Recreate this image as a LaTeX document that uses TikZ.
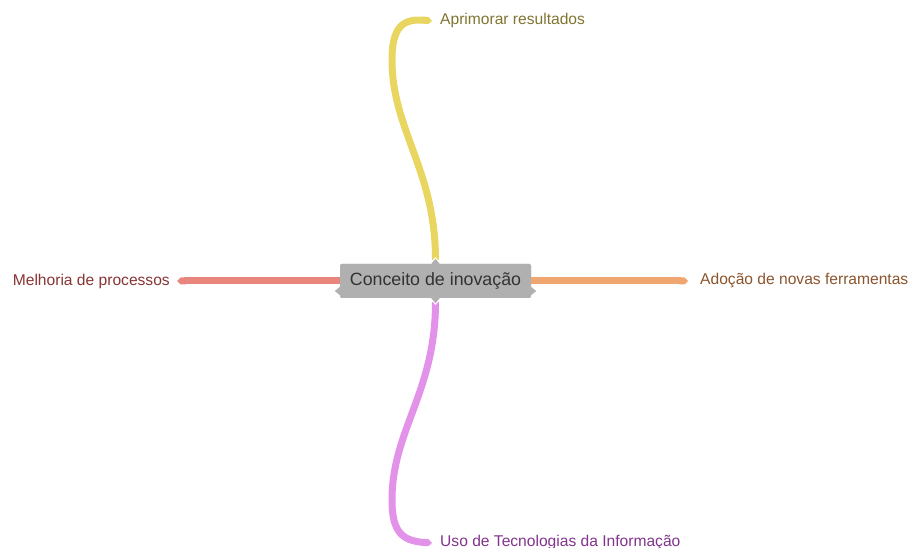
\documentclass[tikz,border=0pt]{standalone}
\usepackage{fontspec}
\setmainfont{Liberation Sans}
\usetikzlibrary{arrows.meta}
\definecolor{boxgray}{RGB}{176,176,176}
\definecolor{textgray}{RGB}{51,51,51}
\definecolor{yelline}{RGB}{233,214,96}
\definecolor{yeltext}{RGB}{128,116,48}
\definecolor{redline}{RGB}{232,134,126}
\definecolor{redtext}{RGB}{136,52,52}
\definecolor{orgline}{RGB}{240,166,112}
\definecolor{orgtext}{RGB}{140,84,44}
\definecolor{pinkline}{RGB}{226,146,232}
\definecolor{pinktext}{RGB}{130,52,140}

\begin{document}
\begin{tikzpicture}[x=1pt,y=-1pt,
    topic/.style={fill=boxgray,rounded corners=2pt,minimum width=191pt,
        minimum height=34pt,inner sep=0pt,text=textgray,
        font=\fontsize{17.8}{20}\selectfont},
    leaf/.style={inner sep=2pt,font=\fontsize{15.6}{18}\selectfont},
    branch/.style={line width=7pt,-{Triangle Cap[]}},
    notch/.style={fill=boxgray,draw=white,line width=1pt}]
    \useasboundingbox (0,0) rectangle (911,548);

    \node[topic] (concept) at (435.5,281) {Conceito de inova\c{c}\~ao};
    \node[leaf,anchor=west,text=yeltext] (aprimorar) at (438,20) {Aprimorar resultados};
    \node[leaf,anchor=east,text=redtext] (melhoria) at (172,281) {Melhoria de processos};
    \node[leaf,anchor=west,text=orgtext] (adocao) at (698,281) {Ado\c{c}\~ao de novas ferramentas};
    \node[leaf,anchor=west,text=pinktext] (uso) at (438,542) {Uso de Tecnologias da Informa\c{c}\~ao};

    % branches
    \draw[branch,yelline] ([yshift=4]concept.north)
        .. controls +(0,-90) and (392,130) .. (392,60)
        .. controls (392,28) and (402,18) .. ([xshift=-6,yshift=-1]aprimorar.west);
    \draw[branch,pinkline] ([yshift=-4]concept.south)
        .. controls +(0,90) and (392,430) .. (392,500)
        .. controls (392,532) and (402,541) .. ([xshift=-6,yshift=-1]uso.west);
    \draw[branch,redline] ([xshift=4]concept.west) -- ([xshift=5]melhoria.east);
    \draw[branch,orgline] ([xshift=-4]concept.east) -- ([xshift=-10]adocao.west);

    \node[topic] at (concept) {Conceito de inova\c{c}\~ao};
    \draw[notch] ([xshift=-5]concept.north) -- ++(5,-6) -- ++(5,6);
    \draw[notch] ([xshift=-5]concept.south) -- ++(5,6) -- ++(5,-6);
    \draw[notch] ([yshift=-5]concept.west) -- ++(-6,5) -- ++(6,5);
    \draw[notch] ([yshift=-5]concept.east) -- ++(6,5) -- ++(-6,5);
\end{tikzpicture}
\end{document}
